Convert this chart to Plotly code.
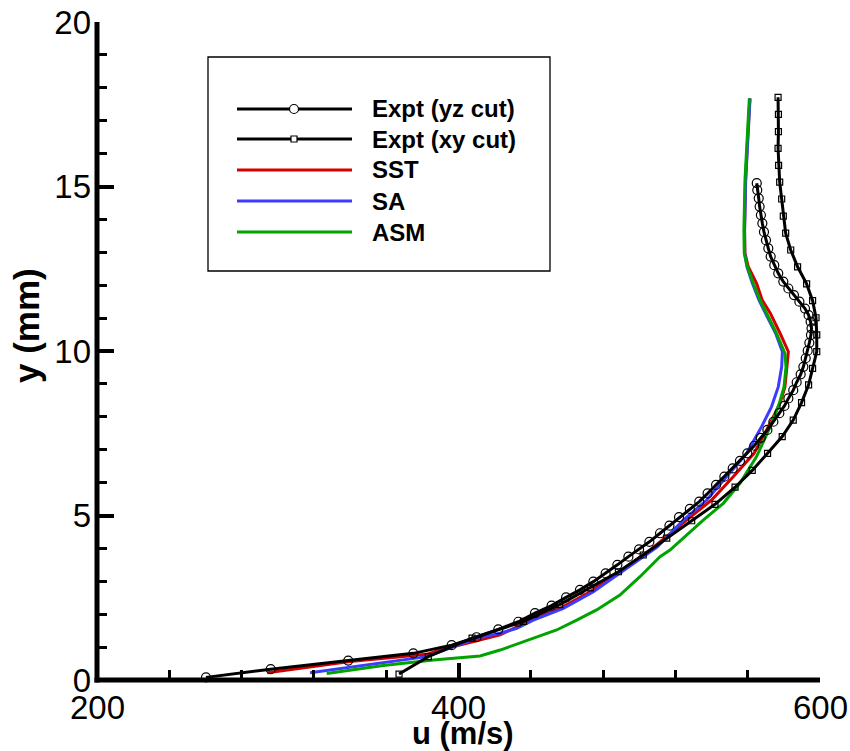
import plotly.graph_objects as go

# ---------------- data ----------------
yz_y = [0.08, 0.33, 0.59, 0.81, 1.06, 1.30, 1.54, 1.77, 2.03, 2.26, 2.51, 2.74, 2.99, 3.24,
        3.50, 3.75, 3.97, 4.20, 4.46, 4.69, 4.95, 5.20, 5.42, 5.67, 5.93, 6.18, 6.43, 6.66,
        6.89, 7.12, 7.36, 7.60, 7.85, 8.11, 8.33, 8.56, 8.81, 9.05, 9.29, 9.52, 9.78, 10.01,
        10.25, 10.49, 10.69, 10.89, 11.09, 11.29, 11.50, 11.70, 11.90, 12.11, 12.36, 12.61,
        12.87, 13.12, 13.37, 13.62, 13.88, 14.13, 14.39, 14.64, 14.89, 15.10]
yz_u = [260.3, 296.1, 339.0, 375.0, 396.2, 410.0, 422.0, 433.1, 442.3, 451.5, 459.5, 467.2,
        474.6, 481.4, 487.9, 494.0, 499.9, 505.6, 511.5, 516.7, 522.0, 528.0, 533.2, 537.8,
        542.5, 547.1, 551.7, 555.7, 559.8, 563.6, 567.2, 570.9, 574.2, 577.5, 580.3, 582.5,
        585.2, 587.1, 589.3, 590.8, 592.1, 593.2, 594.1, 595.0, 595.3, 594.8, 593.7, 591.7,
        588.6, 585.6, 582.5, 579.7, 576.9, 574.7, 572.7, 571.4, 570.1, 569.0, 568.1, 567.3,
        566.6, 566.1, 565.3, 565.0]

xy_y = [0.18, 0.71, 1.27, 1.78, 2.29, 2.80, 3.29, 3.80, 4.31, 4.84, 5.34, 5.86, 6.37, 6.89,
        7.40, 7.90, 8.43, 8.97, 9.47, 9.98, 10.49, 11.01, 11.53, 12.04, 12.56, 13.07, 13.58,
        14.10, 14.62, 15.13, 15.64, 16.16, 16.67, 17.19, 17.71]
xy_u = [367.1, 383.3, 407.5, 436.0, 456.0, 473.0, 488.5, 502.2, 515.2, 529.0, 541.9, 553.0,
        562.5, 571.0, 579.1, 585.2, 589.8, 593.7, 595.9, 598.2, 598.2, 597.8, 595.9, 592.6,
        587.6, 583.8, 581.0, 579.7, 578.8, 577.7, 577.1, 576.8, 577.0, 577.0, 576.8]

sst_y = [0.22, 0.36, 0.56, 0.78, 0.91, 1.37, 1.57, 1.82, 2.18, 2.68, 3.24, 3.75, 3.95, 4.86,
         5.47, 6.18, 6.89, 7.60, 7.90, 8.41, 8.91, 9.52, 9.98, 10.54, 11.15, 11.55, 12.06,
         12.56, 12.97, 13.68, 15.20, 16.21, 17.68]
sst_u = [294.2, 312.3, 340.0, 382.4, 389.8, 423.0, 430.5, 439.8, 456.2, 472.8, 487.7, 500.6,
         505.9, 526.2, 540.0, 552.0, 563.5, 570.5, 573.3, 577.9, 580.6, 581.9, 582.5, 577.9,
         572.5, 568.0, 564.9, 560.3, 558.5, 558.2, 558.8, 559.7, 561.2]

sa_y = [0.22, 0.46, 0.71, 0.86, 1.27, 1.42, 1.57, 1.82, 2.18, 2.68, 3.24, 3.75, 4.05, 4.86,
        5.47, 6.18, 6.89, 7.70, 8.31, 8.91, 9.52, 9.98, 10.53, 11.04, 11.55, 12.06, 12.56,
        12.97, 13.68, 15.20, 16.21, 17.68]
sa_u = [317.9, 349.2, 382.4, 389.8, 410.0, 423.0, 432.2, 441.4, 458.0, 474.6, 489.3, 502.3,
        510.0, 524.4, 537.3, 548.3, 559.4, 567.7, 573.2, 576.9, 578.8, 579.2, 575.5, 570.8,
        566.2, 562.6, 559.6, 558.3, 558.3, 558.9, 559.8, 561.3]

asm_y = [0.20, 0.44, 0.61, 0.73, 0.91, 1.52, 1.82, 2.13, 2.58, 3.14, 3.75, 3.95, 4.86, 5.37,
         5.98, 6.79, 7.70, 8.41, 8.91, 9.52, 9.93, 10.53, 11.04, 11.55, 12.06, 12.56, 12.97,
         13.68, 15.20, 16.21, 17.68]
asm_u = [327.1, 358.4, 386.1, 411.9, 423.0, 454.3, 465.4, 476.4, 489.3, 500.4, 511.5, 517.0,
         535.4, 546.5, 555.7, 564.9, 572.5, 577.5, 580.1, 581.2, 580.6, 576.0, 571.4, 566.8,
         563.1, 559.8, 558.1, 557.9, 558.5, 559.4, 560.9]

legend_names = ["Expt (yz cut)", "Expt (xy cut)", "SST", "SA", "ASM"]
colors = {"SST": "#d40000", "SA": "#3c3cff", "ASM": "#00a300", "Expt": "#000000"}

x_range = [200, 600]
y_range = [0, 20]
x_ticks = [200, 400, 600]
x_tick_labels = ["200", "400", "600"]

# ---------------- figure ----------------
W, H = 850, 751
L, R, T, B = 97, 30, 22, 71
FONT = "Liberation Sans, Arial, Helvetica, sans-serif"
LW = 3

fig = go.Figure()
fig.add_trace(go.Scatter(x=sst_u, y=sst_y, mode="lines", name="SST",
                         line=dict(color=colors["SST"], width=LW)))
fig.add_trace(go.Scatter(x=sa_u, y=sa_y, mode="lines", name="SA",
                         line=dict(color=colors["SA"], width=LW)))
fig.add_trace(go.Scatter(x=asm_u, y=asm_y, mode="lines", name="ASM",
                         line=dict(color=colors["ASM"], width=LW)))
fig.add_trace(go.Scatter(x=yz_u, y=yz_y, mode="lines+markers", name="Expt (yz cut)",
                         line=dict(color="black", width=LW),
                         marker=dict(symbol="circle-open", size=9, color="black",
                                     line=dict(width=1.2, color="black"))))
fig.add_trace(go.Scatter(x=xy_u, y=xy_y, mode="lines+markers", name="Expt (xy cut)",
                         line=dict(color="black", width=LW),
                         marker=dict(symbol="square-open", size=6, color="black",
                                     line=dict(width=1.2, color="black"))))

pw, ph = W - L - R, H - T - B
def px(xp):
    return (xp - L) / pw
def py(yp):
    return (H - B - yp) / ph

# axis lines drawn along the plot-area edges
shapes = [
    dict(type="line", xref="paper", yref="paper", x0=0, x1=0, y0=-2.5 / ph, y1=1,
         line=dict(color="black", width=5), layer="above"),
    dict(type="line", xref="paper", yref="paper", x0=-2.5 / pw, x1=1, y0=0, y1=0,
         line=dict(color="black", width=5), layer="above"),
]
# manual legend
shapes.append(dict(type="rect", xref="paper", yref="paper", x0=px(208), x1=px(550),
                   y0=py(271), y1=py(57), line=dict(color="black", width=1.3),
                   fillcolor="white", layer="above"))
annotations = []
row_y = [109, 139, 170, 201, 232]
leg_colors = ["black", "black", colors["SST"], colors["SA"], colors["ASM"]]
for i, name in enumerate(legend_names):
    yy = py(row_y[i])
    shapes.append(dict(type="line", xref="paper", yref="paper", x0=px(237), x1=px(352),
                       y0=yy, y1=yy, line=dict(color=leg_colors[i], width=LW), layer="above"))
    annotations.append(dict(xref="paper", yref="paper", x=px(370), y=yy, text="<b>%s</b>" % name,
                            showarrow=False, xanchor="left", yanchor="middle",
                            font=dict(family=FONT, size=24, color="black")))
# legend symbols
shapes.append(dict(type="circle", xref="paper", yref="paper", xsizemode="pixel", ysizemode="pixel",
                   xanchor=px(294), yanchor=py(row_y[0]), x0=-4.5, x1=4.5, y0=-4.5, y1=4.5,
                   line=dict(color="black", width=1.2), fillcolor="white", layer="above"))
shapes.append(dict(type="rect", xref="paper", yref="paper", xsizemode="pixel", ysizemode="pixel",
                   xanchor=px(294), yanchor=py(row_y[1]), x0=-3, x1=3, y0=-3, y1=3,
                   line=dict(color="black", width=1.2), fillcolor="white", layer="above"))

# x tick labels (placed on the x scale)
for v, t in zip(x_ticks, x_tick_labels):
    annotations.append(dict(xref="x", yref="paper", x=v, y=0, text=t, showarrow=False,
                            xanchor="center", yanchor="middle", yshift=-27, borderpad=0,
                            font=dict(family=FONT, size=33, color="black")))

# axis titles
annotations.append(dict(xref="paper", yref="paper", x=px(463), y=py(733), text="<b>u (m/s)</b>",
                        showarrow=False, xanchor="center", yanchor="middle", borderpad=0,
                        font=dict(family=FONT, size=31, color="black")))
annotations.append(dict(xref="paper", yref="paper", x=px(27), y=py(326), text="<b>y (mm)</b>",
                        showarrow=False, xanchor="center", yanchor="middle", textangle=-90,
                        font=dict(family=FONT, size=35, color="black")))

axis_common = dict(showgrid=False, zeroline=False, showline=False,
                   ticks="inside", ticklen=17, tickwidth=4, tickcolor="black",
                   tickfont=dict(family=FONT, size=33, color="black"), mirror=False)

fig.update_layout(
    width=W, height=H, margin=dict(l=L, r=R, t=T, b=B, autoexpand=False),
    paper_bgcolor="white", plot_bgcolor="white", showlegend=False,
    xaxis=dict(range=x_range, tickmode="array", tickvals=x_ticks, showticklabels=False,
               minor=dict(ticks="inside", ticklen=10, tickwidth=3, tickcolor="black",
                          tickmode="linear", tick0=200, dtick=40, showgrid=False),
               **axis_common),
    yaxis=dict(range=y_range, tickmode="linear", tick0=0, dtick=5,
               minor=dict(ticks="inside", ticklen=10, tickwidth=3, tickcolor="black", dtick=1,
                          showgrid=False),
               ticklabelstandoff=5, **axis_common),
    shapes=shapes, annotations=annotations,
)
for tr in fig.data:
    tr.cliponaxis = False

fig.write_html("out.html")
